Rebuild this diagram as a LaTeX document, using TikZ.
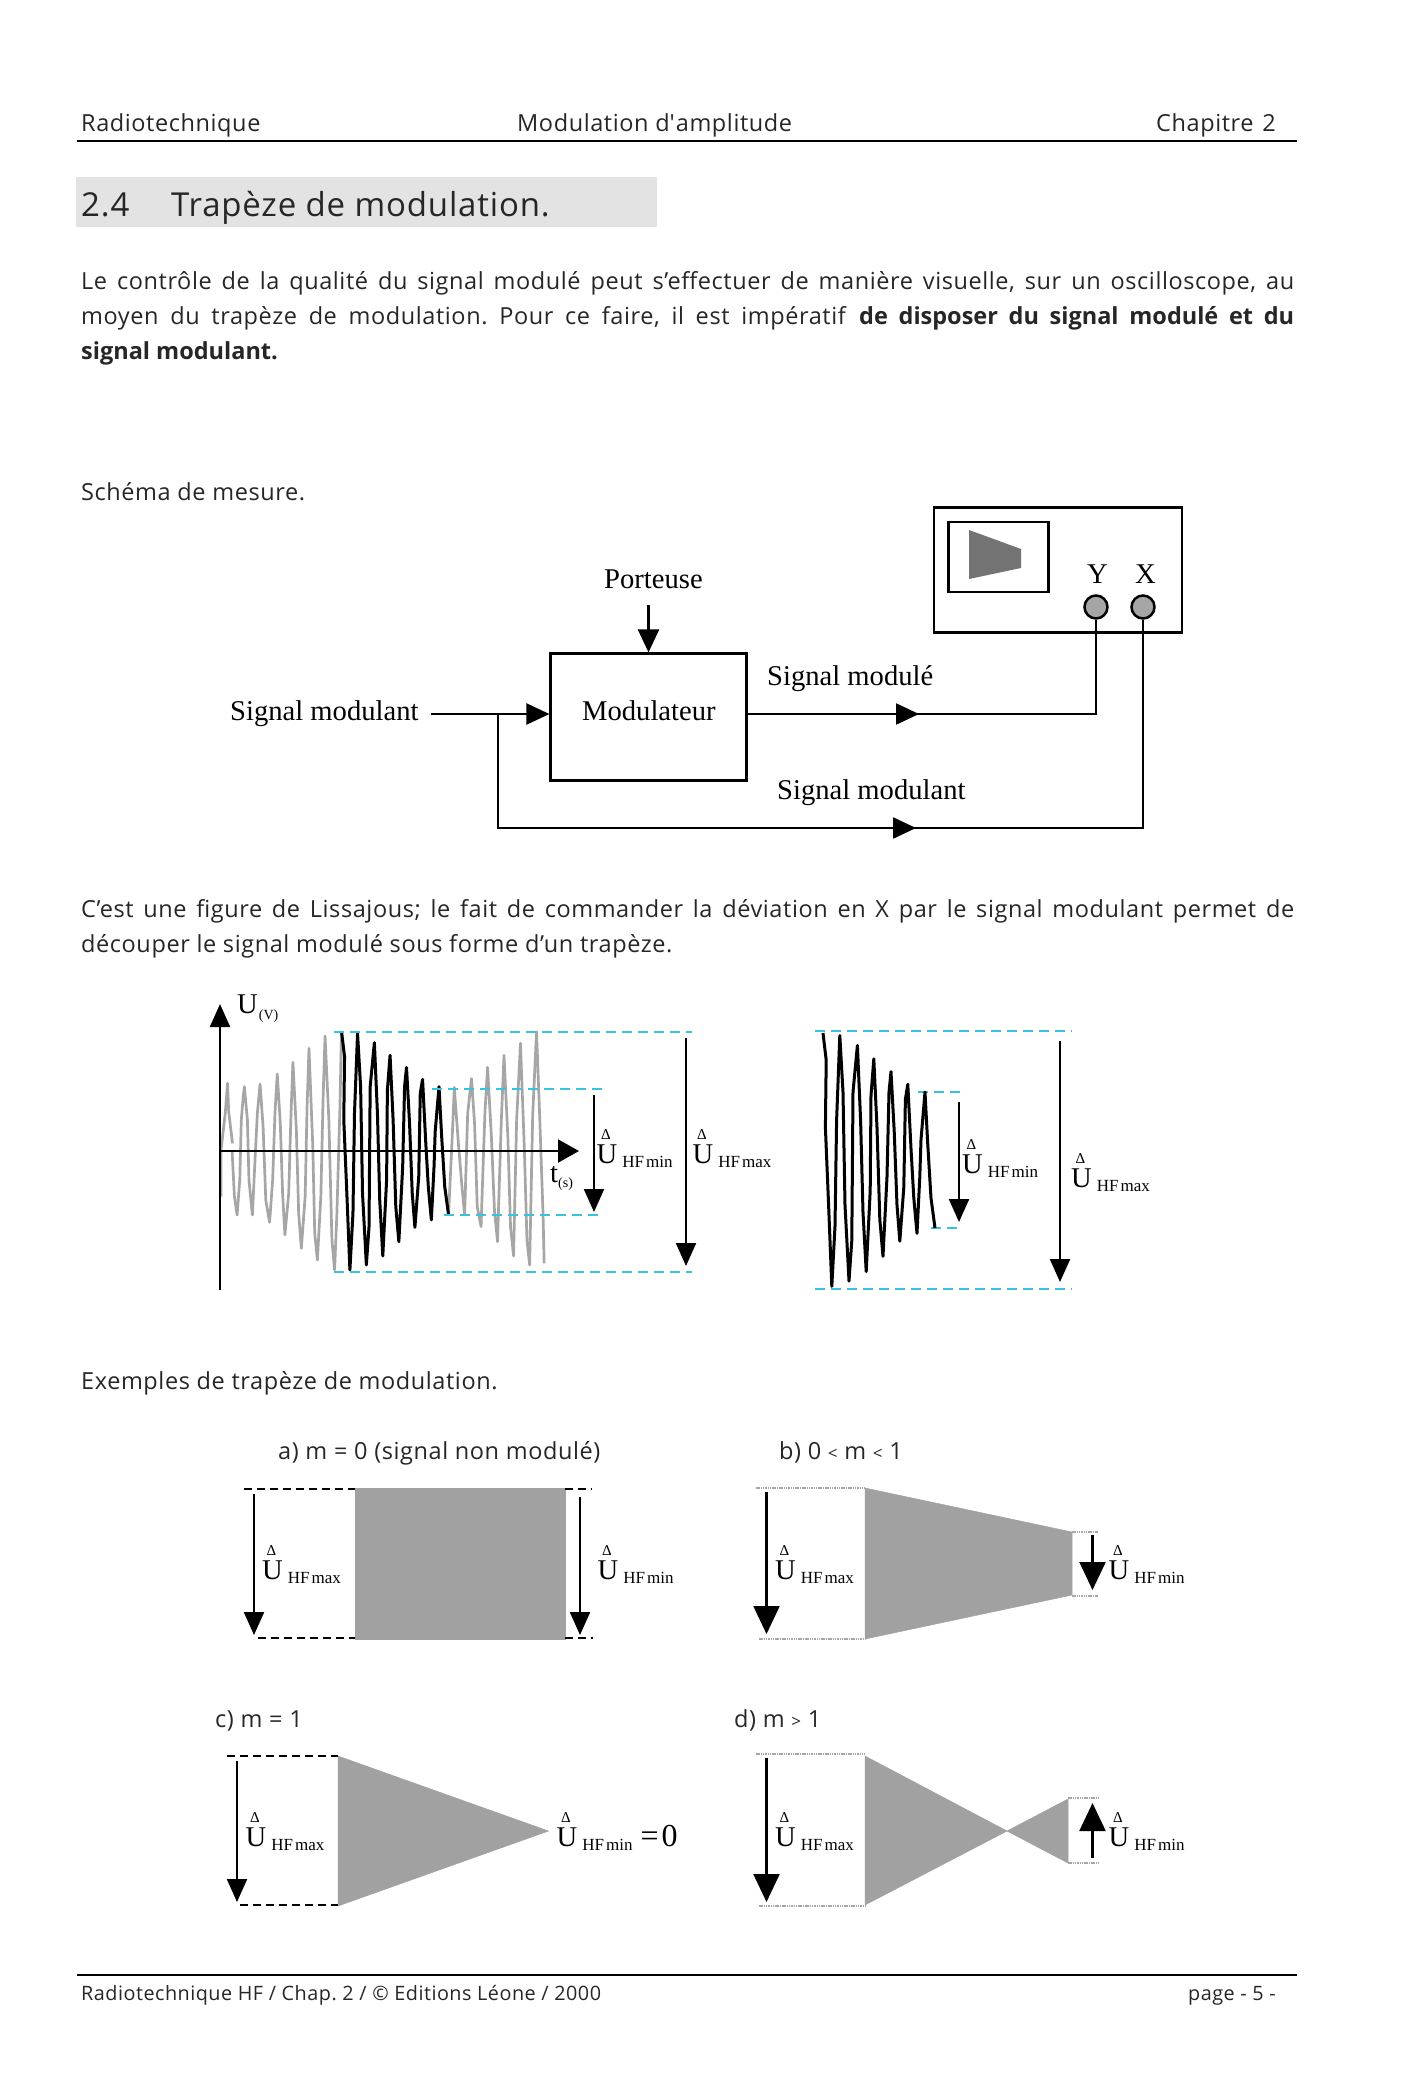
\documentclass[tikz,border=0pt]{standalone}
\usepackage{fontspec}
\setmainfont{Open Sans}[LetterSpace=2.5,BoldFeatures={LetterSpace=0}]
\newfontfamily\droit{Open Sans}
\newfontfamily\serifa{Liberation Serif}
\usepackage{tikz}
\usetikzlibrary{arrows.meta,positioning}
\definecolor{bleu}{HTML}{38C2DE}
\newcommand{\Ligne}[1]{\makebox[1213pt][s]{#1}}
\newcommand{\Petit}[1]{{\fontsize{17}{20}\selectfont #1}}
\newcommand{\Uhf}[1]{\rlap{\raisebox{24pt}{\kern4.5pt\fontsize{15}{15}\selectfont Δ}}U\kern5pt\raisebox{-4pt}{\fontsize{17}{17}\selectfont\spaceskip=2pt #1}}
\newcommand{\WaveGrisA}{(85,490) (75,395) (72,310) (66,400) (55,510) (55,650)}
\newcommand{\WaveGrisB}{(84,515) (90,650) (97,705) (104,600) (108,420) (113,350) (116,320) (124,420) (128,600) (137,705) (143,560) (150,400) (157,312) (165,440) (172,660) (182,727) (190,600) (196,400) (202,282) (210,430) (216,640) (222,765) (232,640) (238,400) (243,247) (252,450) (258,700) (265,805) (275,650) (280,380) (285,205) (295,500) (300,760) (307,840) (316,650) (322,350) (327,168) (337,420) (345,780) (352,870) (358,700) (366,380) (370,153)}
\newcommand{\WaveNoir}{(370,153) (378,230) (376,420) (384,640) (392,870) (400,700) (404,400) (412,160) (420,320) (425,640) (435,855) (442,740) (445,320) (456,188) (464,400) (470,660) (478,828) (488,600) (490,330) (497,226) (505,420) (512,680) (520,785) (530,560) (535,320) (540,262) (548,430) (555,640) (562,742) (572,590) (576,340) (582,298) (590,480) (597,620) (605,720) (612,560) (615,455) (625,320) (632,470) (640,620) (650,705)}
\newcommand{\WaveGrisC}{(650,705) (660,460) (665,322) (675,480) (685,620) (692,705) (700,400) (710,296) (718,430) (725,680) (735,740) (745,400) (752,262) (762,470) (770,690) (778,785) (788,420) (795,226) (805,470) (812,740) (820,828) (828,420) (838,190) (848,500) (855,780) (862,855) (870,405) (880,155) (888,400) (897,700) (900,850)}

\begin{document}
\frenchspacing
\begin{tikzpicture}[
                x=1pt, y=-1pt,
                texte/.style={anchor=base west, inner sep=0pt, font=\fontsize{23.5}{28}\selectfont\frenchspacing, text=black!85},
                pied/.style={anchor=base west, inner sep=0pt, font=\fontsize{19.8}{24}\selectfont, text=black!85},
                roman/.style={anchor=base west, inner sep=0pt, font=\serifa\fontsize{28.6}{32}\selectfont},
                bloc/.style={rectangle, draw, line width=2.2pt, minimum width=196pt, minimum height=127pt, inner sep=0pt},
                wire/.style={line width=2.3pt},
                midtip/.style={wire, -{Triangle[length=23pt,width=21pt]}},
                fleche/.style={line width=2.2pt, -{Triangle[length=23pt,width=20pt]}},
                grosse/.style={line width=2.2pt, -{Triangle[length=28pt,width=26pt]}},
                tirnoir/.style={line width=2.7pt, dash pattern=on 8pt off 5pt},
                tirbleu/.style={line width=2.8pt, bleu, dash pattern=on 10pt off 6pt},
                tirgris/.style={line width=2.5pt, black!35, dash pattern=on 1.5pt off 0.8pt},
                jack/.style={circle, draw, line width=2.5pt, fill=black!35, minimum size=23pt, inner sep=0pt},
                wgris/.style={line width=2.7pt, black!35, line join=round},
                wnoir/.style={line width=3pt, black, line join=round},
                trapeze/.style={fill=black!37, draw=black!37, line width=0.5pt},
            ]
            \useasboundingbox (0,0) rectangle (1412,2093);

            % en-tete
            \node[texte] (hg) at (81,131) {Radiotechnique};
            \node[texte] (hm) at (517,131) {Modulation d{\droit '}\kern1pt amplitude};
            \node[texte] (hd) at (1156,131) {Chapitre\ \kern2pt 2};
            \coordinate (hr1) at (77,141);
            \coordinate (hr2) at (1297,141);
            \draw[line width=2.2pt] (hr1) -- (hr2);

            \fill[black!11] (76,177) rectangle (657,227);
            \node[texte,font=\fontsize{33}{36}\selectfont] (num) at (81,216) {2.4};
            \node[texte,font=\fontsize{33}{36}\selectfont] (titre) at (171,216) {Trapèze de modulation.};

            \node[texte] (l1) at (81,289) {\Ligne{Le contrôle de la qualité du signal modulé peut s’effectuer de manière visuelle, sur un oscilloscope, au}};
            \node[texte] (l2) at (81,324) {\Ligne{moyen du trapèze de modulation. Pour ce faire, il est impératif \textbf{de disposer du signal modulé et du}}};
            \node[texte] (l3) at (81,359) {\textbf{signal modulant.}};
            \node[texte] (schema) at (81,500) {Schéma de mesure.};

            % schema de mesure
            \node[bloc] (mod) at (648.5,717) {};
            \node[roman] (tmod) at (582,720) {Modulateur};
            \node[roman] (port) at (604,588) {Porteuse};
            \node[roman] (sm1) at (230,720) {Signal modulant};
            \node[roman] (smd) at (767,685) {Signal modulé};
            \node[roman] (sm2) at (777,799) {Signal modulant};

            \node[bloc,minimum width=248pt,minimum height=125pt] (oscillo) at (1058,570) {};
            \node[bloc,minimum width=100pt,minimum height=70pt] (ecran) at (998.5,557) {};
            \fill[black!55] (969,530) -- (1021,549) -- (1021,568) -- (969,579) -- cycle;
            \node[roman] (ty) at (1087,583) {Y};
            \node[roman] (tx) at (1135,583) {X};
            \node[jack] (jy) at (1096,607) {};
            \node[jack] (jx) at (1143,607) {};

            \coordinate (c0) at (648.5,605);
            \coordinate (e0) at (431,714);
            \coordinate (e1) at (498,714);
            \coordinate (e2) at (498,828);
            \coordinate (e3) at (916,828);
            \coordinate (e4) at (1143,828);
            \coordinate (s1) at (919,714);
            \coordinate (s2) at (1096,714);
            \draw[midtip] (c0) -- (mod.north);
            \draw[midtip] (e0) -- (mod.west |- e0);
            \draw[wire] (e1) -- (e2) -- (e4) -- (jx.south);
            \draw[midtip] (e2) -- (e3);
            \draw[wire] (mod.east |- s1) -- (s2) -- (jy.south);
            \draw[midtip] (mod.east |- s1) -- (s1);

            \node[texte] (l4) at (81,917) {\Ligne{C’est une figure de Lissajous; le fait de commander la déviation en X par le signal modulant permet de}};
            \node[texte] (l5) at (81,952) {découper le signal modulé sous forme d’un trapèze.};

            % signal module
            \begin{scope}[shift={(200,980)},x=0.3824pt,y=-0.3333pt]
            \draw[wgris] plot coordinates {\WaveGrisA};
            \draw[wgris] plot coordinates {\WaveGrisB};
            \draw[wgris] plot coordinates {\WaveGrisC};
            \draw[wnoir] plot coordinates {\WaveNoir};
            \end{scope}
            \coordinate (o1) at (220,1290);
            \coordinate (o2) at (220,1004);
            \coordinate (o3) at (220,1151);
            \coordinate (o4) at (579,1151);
            \draw[fleche] (o1) -- (o2);
            \draw[fleche,-{Triangle[length=21pt,width=23pt]}] (o3) -- (o4);
            \node[roman] (uv) at (237,1013) {U\kern1pt\raisebox{-6pt}{\fontsize{14}{14}\selectfont (V)}};
            \node[roman] (ts) at (550,1182) {t\raisebox{-5pt}{\fontsize{14}{14}\selectfont (s)}};

            \foreach \ya/\xa/\xb in {1032/334/692,1272/334/692,1089/432/608,1215/444/603,1031/815/1072,1289/815/1072,1092/918/963,1228/931/958}
            \draw[tirbleu] (\xa,\ya) -- (\xb,\ya);

            \coordinate (m1) at (594,1095);
            \coordinate (m2) at (594,1212);
            \coordinate (m3) at (686,1038);
            \coordinate (m4) at (686,1266);
            \draw[fleche] (m1) -- (m2);
            \draw[fleche] (m3) -- (m4);
            \node[roman] (um1) at (596.5,1163) {\Uhf{HF min}};
            \node[roman] (um2) at (692.5,1163) {\Uhf{HF max}};

            \begin{scope}[shift={(675,979)},x=0.4pt,y=-0.3533pt]
            \draw[wnoir] plot coordinates {\WaveNoir};
            \end{scope}
            \coordinate (n1) at (959,1102);
            \coordinate (n2) at (959,1222);
            \coordinate (n3) at (1060,1041);
            \coordinate (n4) at (1060,1282);
            \draw[fleche] (n1) -- (n2);
            \draw[fleche] (n3) -- (n4);
            \node[roman] (un1) at (962,1173) {\Uhf{HF min}};
            \node[roman] (un2) at (1071,1187) {\Uhf{HF max}};

            \node[texte] (ex) at (81,1389) {Exemples de trapèze de modulation.};

            % a)
            \node[texte] (ta) at (278,1459) {a) m = 0 (signal non modulé)};
            \fill[trapeze] (355,1488) rectangle (565,1639);
            \coordinate (a1) at (244,1489);
            \coordinate (a2) at (355,1489);
            \coordinate (a3) at (258,1638);
            \coordinate (a4) at (355,1638);
            \coordinate (a5) at (565,1489);
            \coordinate (a6) at (592,1489);
            \coordinate (a7) at (565,1638);
            \coordinate (a8) at (593,1638);
            \draw[tirnoir] (a1) -- (a2);
            \draw[tirnoir] (a3) -- (a4);
            \draw[tirnoir] (a5) -- (a6);
            \draw[tirnoir] (a7) -- (a8);
            \coordinate (a9) at (254,1494);
            \coordinate (a10) at (254,1635);
            \coordinate (a11) at (580,1497);
            \coordinate (a12) at (580,1635);
            \draw[fleche] (a9) -- (a10);
            \draw[fleche] (a11) -- (a12);
            \node[roman] (ua1) at (262,1579) {\Uhf{HF max}};
            \node[roman] (ua2) at (597.5,1579) {\Uhf{HF min}};

            % b)
            \node[texte] (tb) at (779,1459) {b) 0 \Petit{<} m \Petit{<} 1};
            \fill[trapeze] (865,1488) -- (1072,1532) -- (1072,1595) -- (865,1639) -- cycle;
            \coordinate (b1) at (756,1488);
            \coordinate (b2) at (865,1488);
            \coordinate (b3) at (759,1639);
            \coordinate (b4) at (865,1639);
            \coordinate (b5) at (1072,1532);
            \coordinate (b6) at (1098,1532);
            \coordinate (b7) at (1072,1596);
            \coordinate (b8) at (1098,1596);
            \draw[tirgris] (b1) -- (b2);
            \draw[tirgris] (b3) -- (b4);
            \draw[tirgris] (b5) -- (b6);
            \draw[tirgris] (b7) -- (b8);
            \coordinate (b9) at (766.5,1492);
            \coordinate (b10) at (766.5,1634);
            \coordinate (b11) at (1092.5,1535);
            \coordinate (b12) at (1092.5,1590);
            \draw[grosse] (b9) -- (b10);
            \draw[grosse] (b11) -- (b12);
            \node[roman] (ub1) at (775,1579) {\Uhf{HF max}};
            \node[roman] (ub2) at (1108.5,1579) {\Uhf{HF min}};

            % c)
            \node[texte] (tc) at (215,1727) {c) m = 1};
            \fill[trapeze] (338,1756) -- (548.5,1831) -- (338,1906) -- cycle;
            \coordinate (c1) at (227,1756);
            \coordinate (c2) at (338,1756);
            \coordinate (c3) at (240,1905);
            \coordinate (c4) at (338,1905);
            \draw[tirnoir] (c1) -- (c2);
            \draw[tirnoir] (c3) -- (c4);
            \coordinate (c5) at (237,1761);
            \coordinate (c6) at (237,1902);
            \draw[fleche] (c5) -- (c6);
            \node[roman] (uc1) at (245.5,1846) {\Uhf{HF max}};
            \node[roman] (uc2) at (556.5,1846) {\Uhf{HF min}\kern8pt{\fontsize{32}{32}\selectfont =\kern3pt 0}};

            % d)
            \node[texte] (td) at (734,1727) {d) m \Petit{>} 1};
            \fill[trapeze] (865,1756) -- (1007,1831) -- (1068,1799) -- (1068,1863) -- (1007,1831) -- (865,1905) -- cycle;
            \coordinate (d1) at (756,1754);
            \coordinate (d2) at (865,1754);
            \coordinate (d3) at (759,1906);
            \coordinate (d4) at (865,1906);
            \coordinate (d5) at (1068,1798);
            \coordinate (d6) at (1098,1798);
            \coordinate (d7) at (1068,1863);
            \coordinate (d8) at (1098,1863);
            \draw[tirgris] (d1) -- (d2);
            \draw[tirgris] (d3) -- (d4);
            \draw[tirgris] (d5) -- (d6);
            \draw[tirgris] (d7) -- (d8);
            \coordinate (d9) at (766.5,1758);
            \coordinate (d10) at (766.5,1902);
            \coordinate (d11) at (1092.5,1858);
            \coordinate (d12) at (1092.5,1803);
            \draw[grosse] (d9) -- (d10);
            \draw[grosse] (d11) -- (d12);
            \node[roman] (ud1) at (775,1846) {\Uhf{HF max}};
            \node[roman] (ud2) at (1108.5,1846) {\Uhf{HF min}};

            % pied de page
            \coordinate (pr1) at (77,1975);
            \coordinate (pr2) at (1297,1975);
            \draw[line width=2.2pt] (pr1) -- (pr2);
            \node[pied] (pg) at (81,2000) {Radiotechnique HF / Chap. 2 / © Editions Léone / 2000};
            \node[pied] (pd) at (1188,2000) {page - 5 -};
        \end{tikzpicture}
\end{document}
